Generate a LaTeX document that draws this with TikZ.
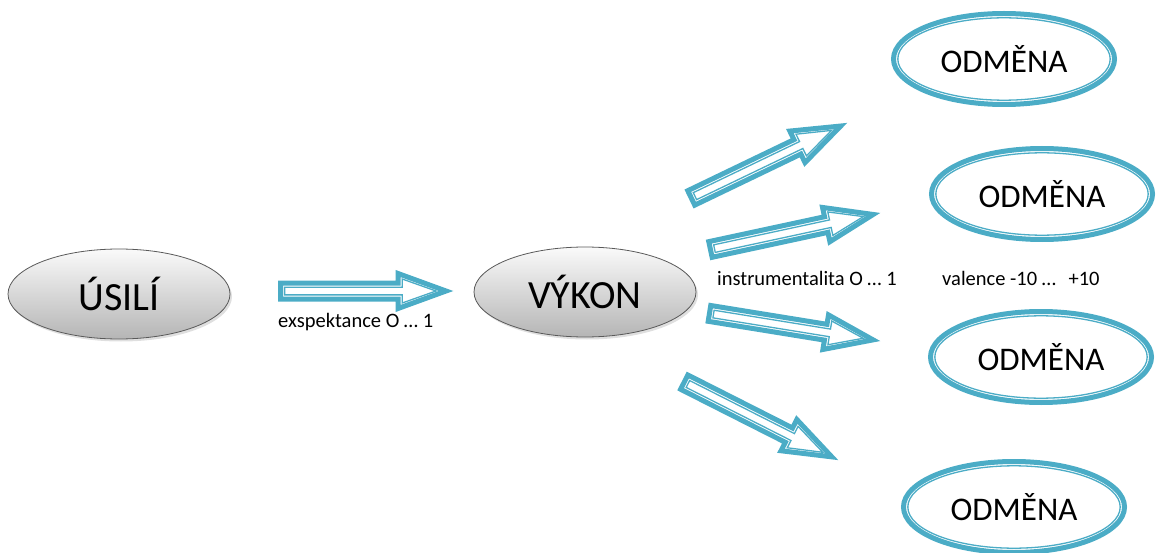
\documentclass[tikz,border=0pt]{standalone}
\usepackage{fontspec}
\setmainfont{Carlito}
\usetikzlibrary{calc,shapes.geometric,shadows}
\definecolor{aqua}{HTML}{4BACC6}
\tikzset{
  grayell/.style={ellipse, draw=gray!70!black, line width=0.8pt,
    top color=gray!4, bottom color=gray!58, inner sep=0pt,
    minimum width=222pt, minimum height=90pt,
    font=\fontsize{40}{40}\selectfont,
    drop shadow={shadow xshift=2pt, shadow yshift=-2.5pt, opacity=0.25}},
  rewell/.style={ellipse, draw=aqua, line width=5pt, fill=white, inner sep=0pt,
    minimum width=221pt, minimum height=91pt,
    font=\fontsize{33}{33}\selectfont},
  rewinner/.style={draw=aqua, line width=1.3pt},
  arrthick/.style={draw=aqua, line width=5pt, fill=white, line join=miter},
  arrthin/.style={draw=aqua, line width=1.3pt, line join=miter},
  lbl/.style={anchor=base west, inner sep=0pt, font=\fontsize{20.5}{20.5}\selectfont}
}
\newcommand\blockarrow[2]{%
 \draw[arrthick] let \p1=($(#2)-(#1)$), \n1={atan2(\y1,\x1)}, \n2={veclen(\x1,\y1)} in
  ($(#1)+(\n1:2.5pt)+({\n1+90}:8pt)$)
  -- ($(#1)+(\n1:{\n2-55pt})+({\n1+90}:8pt)$)
  -- ($(#1)+(\n1:{\n2-55pt})+({\n1+90}:17.5pt)$)
  -- ($(#1)+(\n1:{\n2-7pt})$)
  -- ($(#1)+(\n1:{\n2-55pt})+({\n1-90}:17.5pt)$)
  -- ($(#1)+(\n1:{\n2-55pt})+({\n1-90}:8pt)$)
  -- ($(#1)+(\n1:2.5pt)+({\n1-90}:8pt)$) -- cycle;
 \draw[arrthin] let \p1=($(#2)-(#1)$), \n1={atan2(\y1,\x1)}, \n2={veclen(\x1,\y1)} in
  ($(#1)+(\n1:6.6pt)+({\n1+90}:3.85pt)$)
  -- ($(#1)+(\n1:{\n2-50.8pt})+({\n1+90}:3.85pt)$)
  -- ($(#1)+(\n1:{\n2-50.8pt})+({\n1+90}:12pt)$)
  -- ($(#1)+(\n1:{\n2-17pt})$)
  -- ($(#1)+(\n1:{\n2-50.8pt})+({\n1-90}:12pt)$)
  -- ($(#1)+(\n1:{\n2-50.8pt})+({\n1-90}:3.85pt)$)
  -- ($(#1)+(\n1:6.6pt)+({\n1-90}:3.85pt)$) -- cycle;
}
\begin{document}
\begin{tikzpicture}[x=1pt,y=-1pt]
\useasboundingbox (0,0) rectangle (1158,553);
% gray ellipses
\node[grayell] (usili) at (119,294) {ÚSILÍ};
\node[grayell] (vykon) at (585,292) {VÝKON};
% reward ellipses
\node[rewell] (o1) at (1004,59) {ODMĚNA};
\node[rewell] (o2) at (1042,194) {ODMĚNA};
\node[rewell] (o3) at (1041,357) {ODMĚNA};
\node[rewell] (o4) at (1014,507) {ODMĚNA};
\foreach \o in {o1,o2,o3,o4}
  \draw[rewinner] (\o.center) ellipse [x radius=106.2pt, y radius=41.2pt];
% arrow end points
\coordinate (t0) at (278,291); \coordinate (h0) at (453,291);
\coordinate (t1) at (689,199); \coordinate (h1) at (847,123);
\coordinate (t2) at (708,250); \coordinate (h2) at (880,213);
\coordinate (t3) at (707,313); \coordinate (h3) at (880,341);
\coordinate (t4) at (682,381); \coordinate (h4) at (838,460);
\blockarrow{t0}{h0}
\blockarrow{t1}{h1}
\blockarrow{t2}{h2}
\blockarrow{t3}{h3}
\blockarrow{t4}{h4}
% labels
\node[lbl] (lexp) at (278,327) {exspektance O … 1};
\node[lbl] (linst) at (717,285) {instrumentalita O … 1};
\node[lbl] (lval) at (942,285) {valence -10 …\hspace{8pt} +10};
\end{tikzpicture}
\end{document}
